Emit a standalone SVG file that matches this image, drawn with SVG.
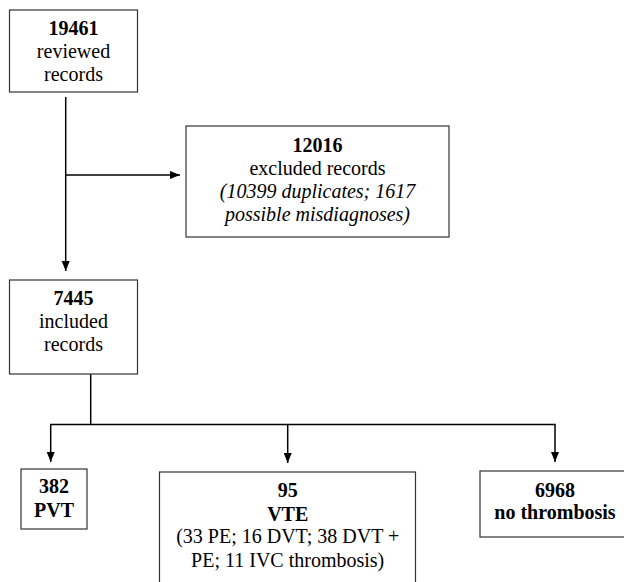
<svg xmlns="http://www.w3.org/2000/svg" width="624" height="582" viewBox="0 0 624 582">
<defs>
<marker id="ah" markerUnits="userSpaceOnUse" markerWidth="10" markerHeight="10" viewBox="0 0 10 10" refX="10" refY="5" orient="auto">
<path d="M0,1 L10,5 L0,9 Z" fill="#000"/>
</marker>
<style>
.box{fill:#fff;stroke:#333;stroke-width:1.2}
.ln{fill:none;stroke:#000;stroke-width:1.5}
.t{font-family:"Liberation Serif","Times New Roman",serif;font-size:20px;fill:#000;text-anchor:middle}
.b{font-weight:bold}
.i{font-style:italic}
</style>
</defs>
<rect width="624" height="582" fill="#fff"/>
<g id="connectors">
<line class="ln" x1="65.7" y1="97" x2="65.7" y2="271" marker-end="url(#ah)"/>
<line class="ln" x1="65.7" y1="175" x2="180" y2="175" marker-end="url(#ah)"/>
<line class="ln" x1="90.7" y1="374" x2="90.7" y2="424.5"/>
<line class="ln" x1="50" y1="424.5" x2="555.7" y2="424.5"/>
<line class="ln" x1="50.7" y1="424.5" x2="50.7" y2="462" marker-end="url(#ah)"/>
<line class="ln" x1="287.7" y1="424.5" x2="287.7" y2="463" marker-end="url(#ah)"/>
<line class="ln" x1="555" y1="424.5" x2="555" y2="462" marker-end="url(#ah)"/>
</g>
<g id="reviewed">
<rect class="box" x="9.5" y="10" width="128" height="82"/>
<text class="t b" x="73.5" y="35">19461</text>
<text class="t" x="73.5" y="58">reviewed</text>
<text class="t" x="73.5" y="81">records</text>
</g>
<g id="excluded">
<rect class="box" x="186" y="126" width="263" height="111"/>
<text class="t b" x="317.5" y="152">12016</text>
<text class="t" x="317.5" y="175">excluded records</text>
<text class="t i" x="317.5" y="198">(10399 duplicates; 1617</text>
<text class="t i" x="317.5" y="221">possible misdiagnoses)</text>
</g>
<g id="included">
<rect class="box" x="9.5" y="280" width="128" height="94"/>
<text class="t b" x="73.5" y="305">7445</text>
<text class="t" x="73.5" y="328">included</text>
<text class="t" x="73.5" y="351">records</text>
</g>
<g id="pvt">
<rect class="box" x="21" y="469" width="66" height="60"/>
<text class="t b" x="54" y="493">382</text>
<text class="t b" x="54" y="517">PVT</text>
</g>
<g id="vte">
<rect class="box" x="159.5" y="472" width="256" height="130"/>
<text class="t b" x="287.7" y="497">95</text>
<text class="t b" x="287.7" y="521">VTE</text>
<text class="t" x="287.7" y="543">(33 PE; 16 DVT; 38 DVT +</text>
<text class="t" x="287.7" y="567">PE; 11 IVC thrombosis)</text>
</g>
<g id="nothrombosis">
<rect class="box" x="480" y="471" width="160" height="66"/>
<text class="t b" x="555" y="497">6968</text>
<text class="t b" x="555" y="519">no thrombosis</text>
</g>
</svg>
